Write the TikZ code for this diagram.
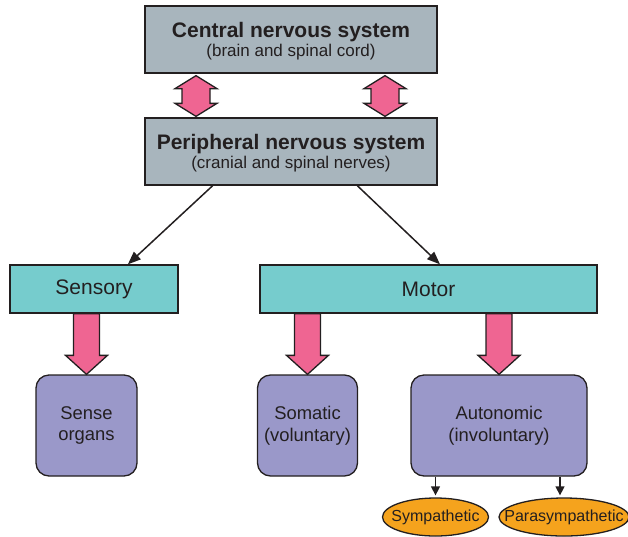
\documentclass[tikz,border=0pt]{standalone}
\usepackage{fontspec}
\setmainfont{Liberation Sans}
\usetikzlibrary{arrows.meta,calc,shapes.geometric}

\definecolor{nsgray}{HTML}{A8B5BD}
\definecolor{nsteal}{HTML}{76CCCD}
\definecolor{nspurple}{HTML}{9A98C9}
\definecolor{nspink}{HTML}{EF6592}
\definecolor{nsorange}{HTML}{F5A31D}
\definecolor{nsline}{HTML}{231F20}

% fat pink arrow from the bottom of #1 down onto the top of #2
\newcommand{\fatdown}[2]{%
  \path (#1.south -| #2.north) coordinate (fa) (#2.north) coordinate (fb);
  \filldraw[fat] ($(fa)+(-13,0)$) -- ($(fb)+(-13,-19)$) -- ($(fb)+(-21,-19)$)
    -- (fb) -- ($(fb)+(21,-19)$) -- ($(fb)+(13,-19)$) -- ($(fa)+(13,0)$) -- cycle;
}
% fat two-headed arrow between #1 and #2, shifted sideways by #3
\newcommand{\fatboth}[3]{%
  \path ($(#1.south)+(#3,2)$) coordinate (fa) ($(#2.north)+(#3,-1)$) coordinate (fb);
  \filldraw[fat] (fa) -- ++(21,13) -- ++(-7,0) -- ($(fb)+(14,-13)$) -- ++(7,0)
    -- (fb) -- ++(-21,-13) -- ++(7,0) -- ($(fa)+(-14,13)$) -- ++(-7,0) -- cycle;
}
% bold heading line of a system box
\newcommand{\systitle}[1]{\rule{0pt}{18.7pt}{\fontsize{21}{19.5}\selectfont\bfseries #1}}

\begin{document}
\begin{tikzpicture}[x=1pt, y=-1pt,
    nsbox/.style={draw=nsline, line width=1.3pt, fill=nsgray,
                  minimum width=292, minimum height=67, inner sep=0pt,
                  align=center, text=nsline, font=\fontsize{17}{19.5}\selectfont},
    branch/.style={draw=nsline, line width=1.3pt, fill=nsteal,
                   minimum height=48, text=nsline, font=\fontsize{21}{24}\selectfont},
    target/.style={draw=nsline, line width=1.3pt, fill=nspurple, rounded corners=13pt,
                   minimum height=101, align=center, text=nsline,
                   font=\fontsize{18.4}{21.5}\selectfont},
    oval/.style={ellipse, draw=nsline, line width=1.3pt, fill=nsorange,
                 minimum height=38, inner sep=0pt, text=nsline,
                 font=\fontsize{16}{18}\selectfont},
    link/.style={-{Triangle[length=13pt,width=10pt]}, line width=1.5pt, draw=nsline},
    tick/.style={-{Triangle[length=9pt,width=9pt]}, line width=1.3pt, draw=nsline},
    fat/.style={fill=nspink, draw=nsline, line width=1.3pt, line join=miter},
]
\useasboundingbox (0,0) rectangle (628,536);

% central and peripheral systems
\node[nsbox] (cns) at (291,39.5)
    {\systitle{Central nervous system}\\(brain and spinal cord)};
\node[nsbox] (pns) at (291,151.5)
    {\systitle{Peripheral nervous system}\\(cranial and spinal nerves)};

\fatboth{cns}{pns}{-95}
\fatboth{cns}{pns}{94}

% sensory and motor divisions
\node[branch, minimum width=168] (sensory) at (94,289) {Sensory};
\node[branch, minimum width=337] (motor) at (428.5,289) {Motor};

\draw[link] ($(pns.south west)!0.233!(pns.south east)$) -- ($(sensory.north west)!0.70!(sensory.north east)$);
\draw[link] ($(pns.south west)!0.726!(pns.south east)$) -- ($(motor.north west)!0.534!(motor.north east)$);

% end organs
\node[target, minimum width=101] (organs) at (86.5,425.5) {Sense\\organs};
\node[target, minimum width=100] (somatic) at (307.5,425.5) {Somatic\\(voluntary)};
\node[target, minimum width=176] (autonomic) at (499,425.5) {Autonomic\\(involuntary)};

\fatdown{sensory}{organs}
\fatdown{motor}{somatic}
\fatdown{motor}{autonomic}

% autonomic branches
\node[oval, minimum width=106] (symp) at (435.5,517) {\makebox[0pt]{Sympathetic}};
\node[oval, minimum width=130] (para) at (564,517) {\makebox[0pt]{Parasympathetic}};

\draw[tick] (autonomic.south -| symp.north) -- ([yshift=2pt]symp.north);
\draw[tick] (autonomic.south -| 560,0) -- ([yshift=2pt]560,0 |- para.north);

\end{tikzpicture}
\end{document}
